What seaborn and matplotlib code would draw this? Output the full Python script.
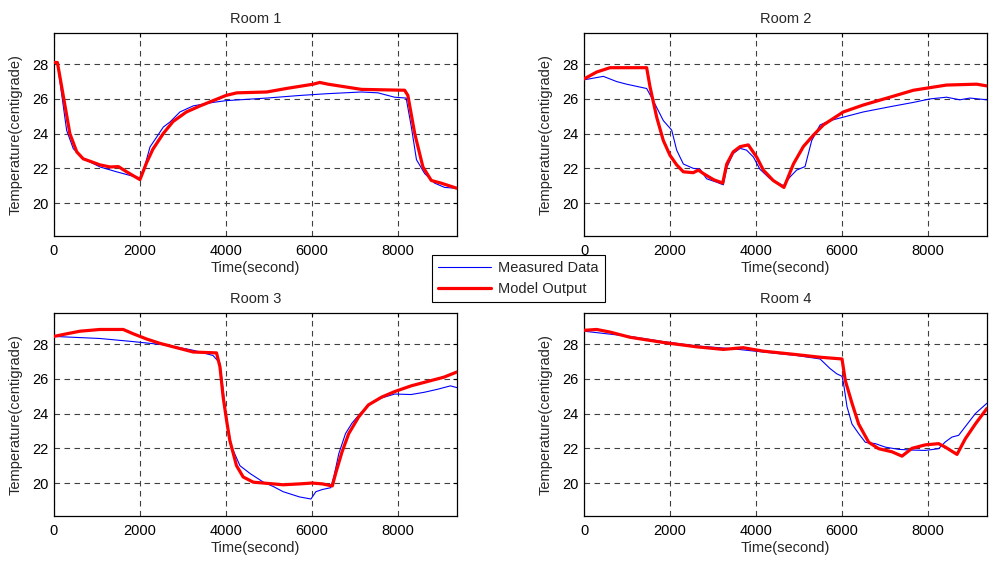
import matplotlib
matplotlib.use("Agg")
import matplotlib.pyplot as plt
import seaborn as sns
import pandas as pd
from matplotlib.lines import Line2D

# ---------------- data ----------------
room_titles = ["Room 1", "Room 2", "Room 3", "Room 4"]
series_labels = ["Measured Data", "Model Output"]
x_ticks = [0, 2000, 4000, 6000, 8000]
y_ticks = [20, 22, 24, 26, 28]

room1_t_meas = [0, 80, 150, 295, 450, 680, 1070, 1457, 1845, 2000, 2120, 2233, 2388, 2543, 2698, 2930,
                3240, 3700, 4000, 4950, 5720, 6340, 7150, 7535, 7920, 8190, 8310, 8430, 8620, 8850, 9085, 9370]
room1_meas = [28.1, 28.05, 26.8, 24.19, 23.13, 22.56, 22.08, 21.8, 21.54, 21.45, 22.2, 23.23, 23.8, 24.38,
              24.67, 25.25, 25.6, 25.8, 25.9, 26.05, 26.2, 26.3, 26.4, 26.35, 26.1, 26.05, 24.4, 22.5, 21.7,
              21.15, 20.9, 20.85]
room1_t_model = [0, 80, 180, 370, 530, 680, 1070, 1300, 1500, 1690, 2000, 2150, 2300, 2540, 2770, 3080,
                 3400, 3700, 4000, 4250, 4950, 5400, 6030, 6180, 6372, 7150, 8155, 8230, 8390, 8580, 8775,
                 9000, 9370]
room1_model = [28.1, 28.1, 26.7, 24.0, 22.95, 22.55, 22.2, 22.08, 22.1, 21.8, 21.35, 22.3, 23.1, 24.0,
               24.7, 25.25, 25.6, 25.9, 26.2, 26.35, 26.4, 26.6, 26.85, 26.95, 26.85, 26.55, 26.5, 26.2,
               24.0, 22.08, 21.3, 21.15, 20.85]

room2_t_meas = [0, 450, 760, 990, 1457, 1610, 1845, 2040, 2155, 2310, 2540, 2700, 2850, 3085, 3240, 3320,
                3470, 3630, 3780, 3940, 4090, 4325, 4635, 4790, 4945, 5140, 5295, 5490, 5720, 6030, 6495,
                7115, 7660, 8045, 8430, 8740, 8975, 9370]
room2_meas = [27.1, 27.3, 27.0, 26.85, 26.6, 25.9, 24.75, 24.2, 23.05, 22.25, 22.0, 21.95, 21.4, 21.2,
              21.05, 22.05, 22.85, 23.15, 23.05, 22.65, 21.95, 21.4, 21.0, 21.5, 21.9, 22.1, 23.6, 24.5,
              24.75, 24.95, 25.25, 25.55, 25.8, 26.0, 26.1, 25.95, 26.05, 25.95]
room2_t_model = [0, 295, 605, 1457, 1535, 1690, 1845, 2000, 2155, 2310, 2540, 2660, 2775, 3010, 3225,
                 3320, 3470, 3630, 3820, 4015, 4170, 4400, 4650, 4870, 5100, 5330, 5565, 6030, 6495, 7115,
                 7660, 8045, 8430, 9130, 9370]
room2_model = [27.15, 27.55, 27.8, 27.8, 26.7, 24.95, 23.6, 22.75, 22.2, 21.8, 21.75, 21.9, 21.7, 21.35,
               21.15, 22.25, 22.95, 23.25, 23.35, 22.65, 21.9, 21.3, 20.9, 22.25, 23.25, 23.9, 24.5, 25.25,
               25.65, 26.1, 26.5, 26.65, 26.8, 26.85, 26.75]

room3_t_meas = [0, 1070, 1845, 2620, 3240, 3700, 3860, 3935, 4015, 4130, 4325, 4560, 4870, 5100, 5330,
                5710, 5977, 6090, 6245, 6435, 6510, 6625, 6780, 6930, 7120, 7312, 7618, 7923, 8305, 8610,
                8915, 9220, 9370]
room3_meas = [28.45, 28.33, 28.15, 27.95, 27.65, 27.35, 26.9, 25.35, 23.6, 22.1, 21.0, 20.55, 20.05, 19.8,
              19.5, 19.2, 19.08, 19.5, 19.63, 19.73, 20.37, 21.7, 22.85, 23.45, 24.0, 24.5, 24.9, 25.13,
              25.1, 25.23, 25.4, 25.6, 25.5]
room3_t_model = [0, 295, 605, 1070, 1610, 1845, 2155, 2465, 2775, 3240, 3780, 3860, 3935, 4015, 4090,
                 4245, 4400, 4635, 4870, 5330, 5710, 6000, 6245, 6473, 6550, 6700, 6855, 7083, 7312, 7618,
                 7923, 8305, 8760, 9067, 9370]
room3_model = [28.45, 28.6, 28.75, 28.85, 28.85, 28.6, 28.3, 28.05, 27.85, 27.55, 27.5, 26.7, 24.95, 23.6,
               22.45, 21.0, 20.35, 20.05, 20.0, 19.9, 19.95, 20.0, 19.95, 19.83, 20.55, 21.8, 22.85, 23.8,
               24.5, 24.95, 25.27, 25.6, 25.9, 26.1, 26.4]

room4_t_meas = [0, 1070, 1845, 2620, 3400, 4170, 4945, 5490, 5720, 5875, 6000, 6038, 6116, 6232, 6387,
                6542, 6775, 7007, 7317, 7627, 7937, 8247, 8402, 8557, 8712, 8867, 9100, 9370]
room4_meas = [28.75, 28.45, 28.15, 27.9, 27.75, 27.55, 27.35, 27.15, 26.6, 26.3, 26.15, 25.7, 24.4, 23.4,
              22.85, 22.35, 22.27, 22.07, 21.94, 21.9, 21.88, 21.98, 22.37, 22.65, 22.75, 23.25, 24.0, 24.6]
room4_t_model = [0, 295, 605, 1070, 1845, 2620, 3240, 3700, 4170, 4945, 5490, 6000, 6077, 6232, 6387,
                 6620, 6852, 7162, 7395, 7627, 7937, 8247, 8402, 8674, 8867, 9100, 9370]
room4_model = [28.8, 28.85, 28.7, 28.4, 28.1, 27.85, 27.7, 27.8, 27.6, 27.4, 27.25, 27.15, 25.9, 24.6,
               23.4, 22.35, 21.98, 21.8, 21.55, 22.0, 22.2, 22.27, 22.07, 21.65, 22.55, 23.4, 24.3]

rooms = [
    (room1_t_meas, room1_meas, room1_t_model, room1_model),
    (room2_t_meas, room2_meas, room2_t_model, room2_model),
    (room3_t_meas, room3_meas, room3_t_model, room3_model),
    (room4_t_meas, room4_meas, room4_t_model, room4_model),
]

# ---------------- style ----------------
sns.set_theme(style="white")
plt.rcParams["font.family"] = ["Liberation Sans", "DejaVu Sans"]
FS = 10.5
plt.rcParams["font.size"] = FS
plt.rcParams["xtick.direction"] = "in"
plt.rcParams["ytick.direction"] = "in"

fig = plt.figure(figsize=(9.9, 5.61), dpi=100)
positions = [
    (0.0545, 0.5793, 0.407, 0.3619),
    (0.5899, 0.5793, 0.407, 0.3619),
    (0.0545, 0.0802, 0.407, 0.3619),
    (0.5899, 0.0802, 0.407, 0.3619),
]

for i, (pos, title, (tm, ym, tmod, ymod)) in enumerate(zip(positions, room_titles, rooms)):
    ax = fig.add_axes(pos)
    df_m = pd.DataFrame({"t": tm, "T": ym})
    df_o = pd.DataFrame({"t": tmod, "T": ymod})
    sns.lineplot(data=df_m, x="t", y="T", ax=ax, color="#0000ff", linewidth=0.8, zorder=3)
    sns.lineplot(data=df_o, x="t", y="T", ax=ax, color="#ff0000", linewidth=2.3, zorder=4)
    ax.set_xlim(0, 9370)
    ax.set_ylim(18.1, 29.8)
    ax.set_xticks(x_ticks)
    ax.set_yticks(y_ticks)
    ax.set_xticklabels([str(v) for v in x_ticks], fontsize=FS)
    ax.set_yticklabels([str(v) for v in y_ticks], fontsize=FS)
    ax.grid(True, color="0.25", linestyle=(0, (5, 4)), linewidth=0.8)
    ax.tick_params(axis="both", which="both", direction="in", top=True, right=True,
                   length=3, width=0.8, color="black", labelcolor="black")
    ax.tick_params(axis="x", pad=6)
    ax.tick_params(axis="y", pad=4)
    for s in ax.spines.values():
        s.set_color("black")
        s.set_linewidth(0.9)
    ax.set_title(title, fontsize=FS, pad=7.5)
    ax.set_xlabel("Time(second)", fontsize=FS, labelpad=2)
    ax.set_ylabel("Temperature(centigrade)", fontsize=FS, labelpad=7)

handles = [Line2D([0], [0], color="#0000ff", linewidth=0.8),
           Line2D([0], [0], color="#ff0000", linewidth=2.3)]
leg = fig.legend(handles, series_labels, loc="center", bbox_to_anchor=(0.5237, 0.5036),
                 fontsize=FS, frameon=True, fancybox=False, framealpha=1, edgecolor="black",
                 handlelength=3.6, borderpad=0.45, labelspacing=0.45, handletextpad=0.5,
                 borderaxespad=0)
leg.get_frame().set_linewidth(0.8)

fig.savefig("out.png", dpi=100)
